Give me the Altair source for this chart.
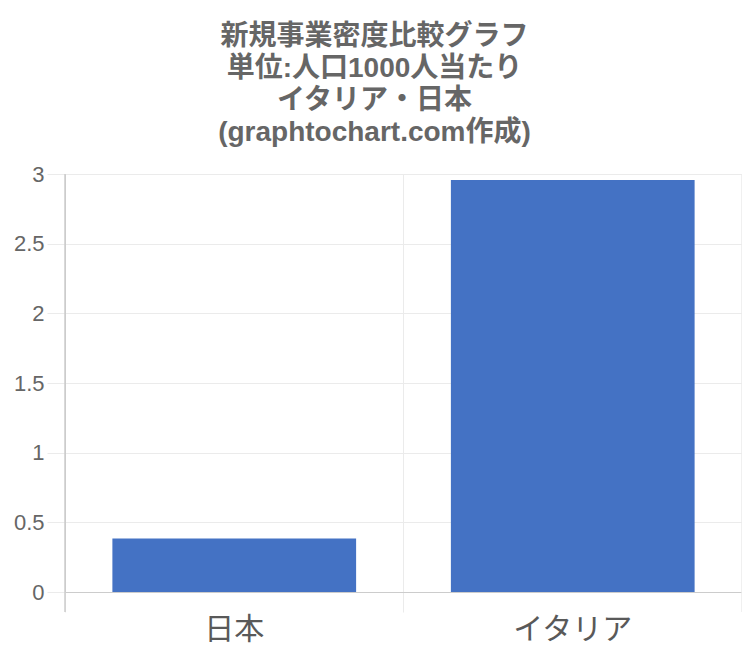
import altair as alt
import pandas as pd

countries = ["日本", "イタリア"]
values = [0.384, 2.957]
title_lines = ["新規事業密度比較グラフ", "単位:人口1000人当たり", "イタリア・日本", "(graphtochart.com作成)"]
y_ticks = [0, 0.5, 1, 1.5, 2, 2.5, 3]

df = pd.DataFrame({"country": countries, "value": values})

W, H = 677, 418
FONT = "Liberation Sans, Arial, Noto Sans CJK JP, sans-serif"

bars = alt.Chart(df).mark_bar(color="#4472C4", width=alt.RelativeBandSize(0.72)).encode(
    x=alt.X("country:N", sort=countries, title=None,
            scale=alt.Scale(paddingInner=0, paddingOuter=0),
            axis=alt.Axis(labelAngle=0, labelFontSize=30, labelColor="#595959",
                          labelFont="Noto Sans CJK JP, sans-serif",
                          grid=True, gridColor="#ebebeb", bandPosition=0,
                          ticks=True, tickSize=20, tickColor="#ebebeb",
                          domain=True, domainColor="#cccccc", labelPadding=2)),
    y=alt.Y("value:Q", title=None,
            scale=alt.Scale(domain=[0, 3], nice=False),
            axis=alt.Axis(values=y_ticks, format="~g", labelFontSize=22,
                          labelColor="#666666", labelFont=FONT,
                          gridColor="#ebebeb", tickColor="#ebebeb", tickSize=18,
                          domain=True, domainColor="#cccccc", labelPadding=3)),
)

right_edge = alt.Chart(df).mark_rule(color="#ebebeb").encode(
    x=alt.value(W), y=alt.value(0), y2=alt.value(H + 20)
)
left_edge = alt.Chart(df).mark_rule(color="#cccccc").encode(
    x=alt.value(0), y=alt.value(0), y2=alt.value(H + 20)
)

chart = alt.layer(bars, right_edge, left_edge).properties(
    width=W, height=H,
    title=alt.TitleParams(text=title_lines, fontSize=28, fontWeight="bold",
                          color="#666666", font=FONT, lineHeight=32,
                          anchor="middle", dx=-29, offset=16),
    autosize=alt.AutoSizeParams(type="none"),
    padding={"left": 57, "top": 166, "right": 0, "bottom": 60},
).configure_view(stroke=None)

chart.save("out.html", embed_options={"renderer": "svg", "actions": False})
